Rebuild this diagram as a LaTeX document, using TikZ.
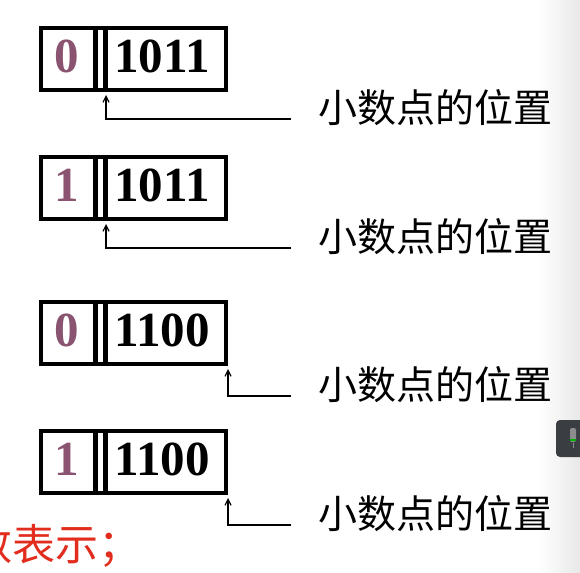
\documentclass[tikz,border=0pt]{standalone}
\usepackage{fontspec}
\setmainfont{Liberation Serif}
\newfontfamily\cjk{Noto Sans CJK SC}
\usetikzlibrary{arrows.meta}
\definecolor{signcol}{RGB}{138,84,112}
\definecolor{redtxt}{RGB}{226,45,30}
\definecolor{micbg}{RGB}{58,61,66}
\tikzset{
  regbox/.style={draw, line width=4pt, minimum width=185pt, minimum height=62pt, inner sep=0pt, anchor=north west},
  barline/.style={line width=4.4pt},
  signbit/.style={text=signcol, font=\fontsize{49}{49}\selectfont\bfseries, inner sep=0pt},
  valbits/.style={text=black, font=\fontsize{49}{49}\selectfont\bfseries, inner sep=0pt},
  lbl/.style={font=\cjk\fontsize{39}{39}\selectfont, anchor=west, inner sep=0pt},
  ptr/.style={line width=1.2pt, -{Straight Barb[length=6pt,width=6pt]}},
}
\begin{document}
\begin{tikzpicture}[x=1pt,y=-1pt]
\useasboundingbox (0,0) rectangle (580,572);
\clip (0,0) rectangle (580,572);
% right grey margin of the screenshot
\shade[left color=white, right color=black!9] (538,0) rectangle (580,572);
\fill[micbg, rounded corners=4pt] (556,420) rectangle (592,457);
\fill[black!45, rounded corners=2pt] (570,428) rectangle (576,442);
\draw[green!70!black, line width=1.5pt] (570,440) -- (576,440);
\draw[black!45, line width=1pt] (573,443) -- (573,448);

% ---- box 1
\node[regbox] (b1) at (39,26) {};
\draw[barline] (95.5,26) -- (95.5,88);
\draw[barline] (105.5,26) -- (105.5,88);
\node[signbit] (s1) at (67,56) {0};
\node[valbits] (v1) at (162,56) {1011};
\node[lbl] (l1) at (318,108) {小数点的位置};
\coordinate (e1) at (291,119);
\draw[ptr] (e1) -| ([shift={(67,3)}]b1.south west);

% ---- box 2
\node[regbox] (b2) at (39,155) {};
\draw[barline] (95.5,155) -- (95.5,217);
\draw[barline] (105.5,155) -- (105.5,217);
\node[signbit] (s2) at (67,185) {1};
\node[valbits] (v2) at (162,185) {1011};
\node[lbl] (l2) at (318,237) {小数点的位置};
\coordinate (e2) at (291,248);
\draw[ptr] (e2) -| ([shift={(67,3)}]b2.south west);

% ---- box 3
\node[regbox] (b3) at (39,300) {};
\draw[barline] (95.5,300) -- (95.5,362);
\draw[barline] (105.5,300) -- (105.5,362);
\node[signbit] (s3) at (67,330) {0};
\node[valbits] (v3) at (162,330) {1100};
\node[lbl] (l3) at (318,385) {小数点的位置};
\coordinate (e3) at (291,396);
\draw[ptr] (e3) -| ([shift={(0,3)}]b3.south east);

% ---- box 4
\node[regbox] (b4) at (39,429) {};
\draw[barline] (95.5,429) -- (95.5,491);
\draw[barline] (105.5,429) -- (105.5,491);
\node[signbit] (s4) at (67,459) {1};
\node[valbits] (v4) at (162,459) {1100};
\node[lbl] (l4) at (318,514) {小数点的位置};
\coordinate (e4) at (291,525);
\draw[ptr] (e4) -| ([shift={(0,3)}]b4.south east);

% ---- cut-off red text (cut at the left edge as in the screenshot)
\node[font=\cjk\fontsize{43}{43}\selectfont, text=redtxt, anchor=west, inner sep=0pt] (rt) at (-31,546) {数表示；};
\end{tikzpicture}
\end{document}
